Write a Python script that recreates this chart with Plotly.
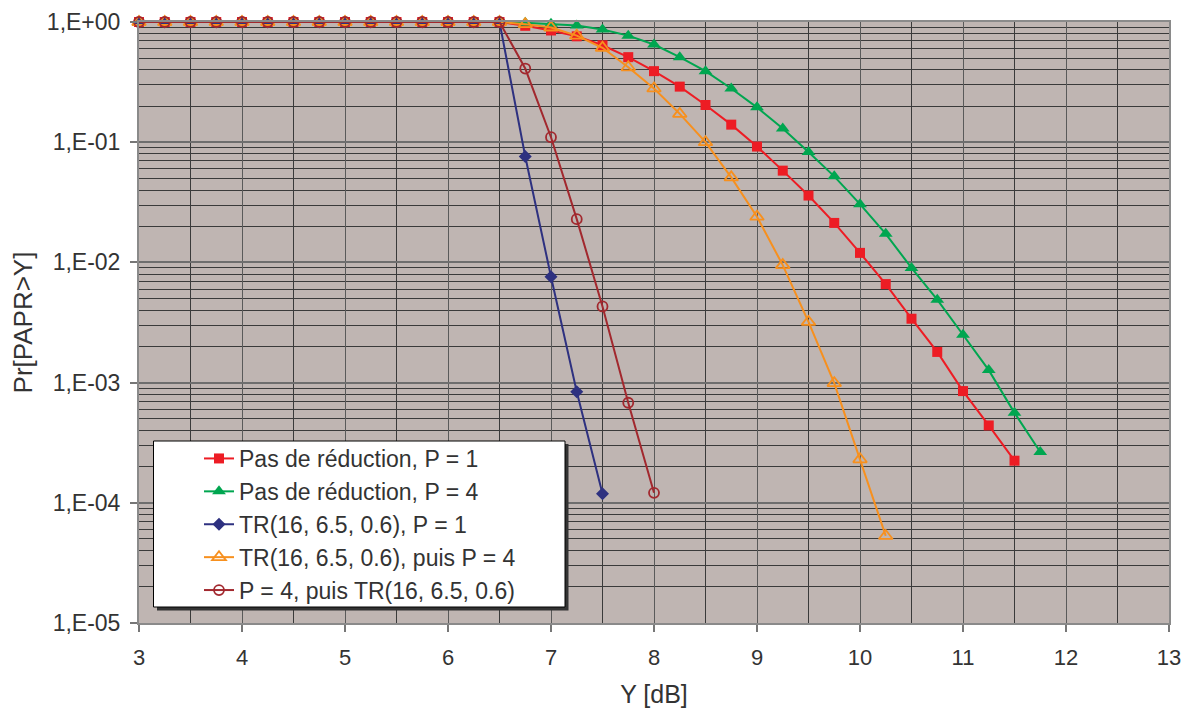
import plotly.graph_objects as go

# ---------------- data ----------------
x_flat = [3, 3.25, 3.5, 3.75, 4, 4.25, 4.5, 4.75, 5, 5.25, 5.5, 5.75, 6, 6.25, 6.5]
flat_vals = [1.0] * 15

x_p1 = x_flat + [6.75, 7, 7.25, 7.5, 7.75, 8, 8.25, 8.5, 8.75, 9, 9.25, 9.5, 9.75,
                 10, 10.25, 10.5, 10.75, 11, 11.25, 11.5]
y_p1 = flat_vals + [0.93, 0.85, 0.76, 0.64, 0.51, 0.39, 0.29, 0.204, 0.14, 0.092, 0.058,
                    0.036, 0.0213, 0.012, 0.0066, 0.0034, 0.0018, 0.00085, 0.00044, 0.000224]

x_p4 = x_flat + [6.75, 7, 7.25, 7.5, 7.75, 8, 8.25, 8.5, 8.75, 9, 9.25, 9.5, 9.75,
                 10, 10.25, 10.5, 10.75, 11, 11.25, 11.5, 11.75]
y_p4 = flat_vals + [0.985, 0.965, 0.935, 0.865, 0.77, 0.65, 0.51, 0.39, 0.28, 0.195, 0.13,
                    0.083, 0.052, 0.0305, 0.0173, 0.009, 0.0049, 0.0025, 0.00127, 0.00056, 0.000265]

x_tr = x_flat + [6.75, 7, 7.25, 7.5]
y_tr = flat_vals + [0.076, 0.0076, 0.00084, 0.000119]

x_tr_p4 = x_flat + [6.75, 7, 7.25, 7.5, 7.75, 8, 8.25, 8.5, 8.75, 9, 9.25, 9.5, 9.75, 10, 10.25]
y_tr_p4 = flat_vals + [0.96, 0.90, 0.77, 0.61, 0.42, 0.28, 0.172, 0.100, 0.051, 0.024,
                       0.0095, 0.0032, 0.00099, 0.00023, 5.3e-5]

x_p4_tr = x_flat + [6.75, 7, 7.25, 7.5, 7.75, 8]
y_p4_tr = flat_vals + [0.41, 0.11, 0.0229, 0.0043, 0.00068, 0.000121]

names = ["Pas de réduction, P = 1", "Pas de réduction, P = 4", "TR(16, 6.5, 0.6), P = 1",
         "TR(16, 6.5, 0.6), puis P = 4", "P = 4, puis TR(16, 6.5, 0.6)"]

y_tickvals = [1, 1e-1, 1e-2, 1e-3, 1e-4, 1e-5]
y_ticktext = ["1,E+00", "1,E-01", "1,E-02", "1,E-03", "1,E-04", "1,E-05"]
x_tickvals = [3, 4, 5, 6, 7, 8, 9, 10, 11, 12, 13]

# ---------------- figure ----------------
FONT = "Liberation Sans, Arial, sans-serif"
TXT = "#333333"

fig = go.Figure()
fig.add_trace(go.Scatter(x=x_p1, y=y_p1, name=names[0], mode="lines+markers",
                         line=dict(color="#ED1C24", width=2),
                         marker=dict(symbol="square", size=10, color="#ED1C24"), cliponaxis=False))
fig.add_trace(go.Scatter(x=x_p4, y=y_p4, name=names[1], mode="lines+markers",
                         line=dict(color="#00A650", width=2),
                         marker=dict(symbol="triangle-up", size=12, color="#00A650"), cliponaxis=False))
fig.add_trace(go.Scatter(x=x_tr, y=y_tr, name=names[2], mode="lines+markers",
                         line=dict(color="#2E3180", width=2),
                         marker=dict(symbol="diamond", size=10, color="#2E3180"), cliponaxis=False))
fig.add_trace(go.Scatter(x=x_tr_p4, y=y_tr_p4, name=names[3], mode="lines+markers",
                         line=dict(color="#F7901E", width=2),
                         marker=dict(symbol="triangle-up-open", size=12, color="#F7901E",
                                     line=dict(width=1.8)), cliponaxis=False))
fig.add_trace(go.Scatter(x=x_p4_tr, y=y_p4_tr, name=names[4], mode="lines+markers",
                         line=dict(color="#A2282E", width=2),
                         marker=dict(symbol="circle-open", size=10, color="#A2282E",
                                     line=dict(width=1.8)), cliponaxis=False))

# page has an 8px body margin: figure is drawn at (8, 8)
OFF = 8
W, H = 1190 - OFF, 711 - OFF
# plot-area geometry in screen pixels
L, R, T, B = 139, 1169, 22, 623


def px(xs):
    return (xs - L) / (R - L)


def py(ys):
    return (B - ys) / (B - T)


# legend shadow + box
fig.add_shape(type="rect", xref="paper", yref="paper", layer="above",
              x0=px(157), x1=px(568.5), y0=py(610.5), y1=py(444),
              fillcolor="#333333", line=dict(width=0))
fig.add_shape(type="rect", xref="paper", yref="paper", layer="above",
              x0=px(153.5), x1=px(565), y0=py(607), y1=py(441),
              fillcolor="white", line=dict(color="#000000", width=1))

minor_y = [m * 10.0 ** e for e in range(-5, 0) for m in range(2, 10)]

fig.update_layout(
    width=W, height=H,
    margin=dict(l=L - OFF, r=W - (R - OFF), t=T - OFF, b=H - (B - OFF)),
    paper_bgcolor="white",
    plot_bgcolor="#BFB5B2",
    font=dict(family=FONT, color=TXT, size=22),
    showlegend=True,
    legend=dict(x=px(199), y=py(437), xanchor="left", yanchor="top",
                bgcolor="rgba(0,0,0,0)", borderwidth=0,
                font=dict(family=FONT, size=23, color=TXT),
                traceorder="normal", tracegroupgap=0),
    xaxis=dict(
        automargin=False,
        range=[3, 13], tickmode="array", tickvals=x_tickvals,
        ticks="outside", ticklen=7, tickcolor="#777777", tickwidth=1.5,
        ticklabelstandoff=7,
        tickfont=dict(family=FONT, size=22, color=TXT),
        showgrid=True, gridcolor="#5a5a5a", gridwidth=1.3,
        minor=dict(tickmode="linear", tick0=3.5, dtick=1, showgrid=True,
                   gridcolor="#3a3a3a", gridwidth=1, ticks=""),
        showline=True, linecolor="#8a8a8a", linewidth=2, mirror=True,
        zeroline=False,
        title=dict(text="Y [dB]", font=dict(family=FONT, size=25, color=TXT), standoff=16),
    ),
    yaxis=dict(
        automargin=False,
        type="log", range=[-5, 0], tickmode="array", tickvals=y_tickvals, ticktext=y_ticktext,
        ticks="outside", ticklen=7, tickcolor="#777777", tickwidth=1.5,
        ticklabelstandoff=5,
        tickfont=dict(family=FONT, size=23, color=TXT),
        showgrid=True, gridcolor="#6e6e6e", gridwidth=2,
        minor=dict(tickmode="array", tickvals=minor_y, showgrid=True,
                   gridcolor="#3a3a3a", gridwidth=1, ticks=""),
        showline=True, linecolor="#8a8a8a", linewidth=2, mirror=True,
        zeroline=False,
        title=dict(text="Pr[PAPR>Y]", font=dict(family=FONT, size=26, color=TXT), standoff=13),
    ),
)

fig.write_html("out.html")
